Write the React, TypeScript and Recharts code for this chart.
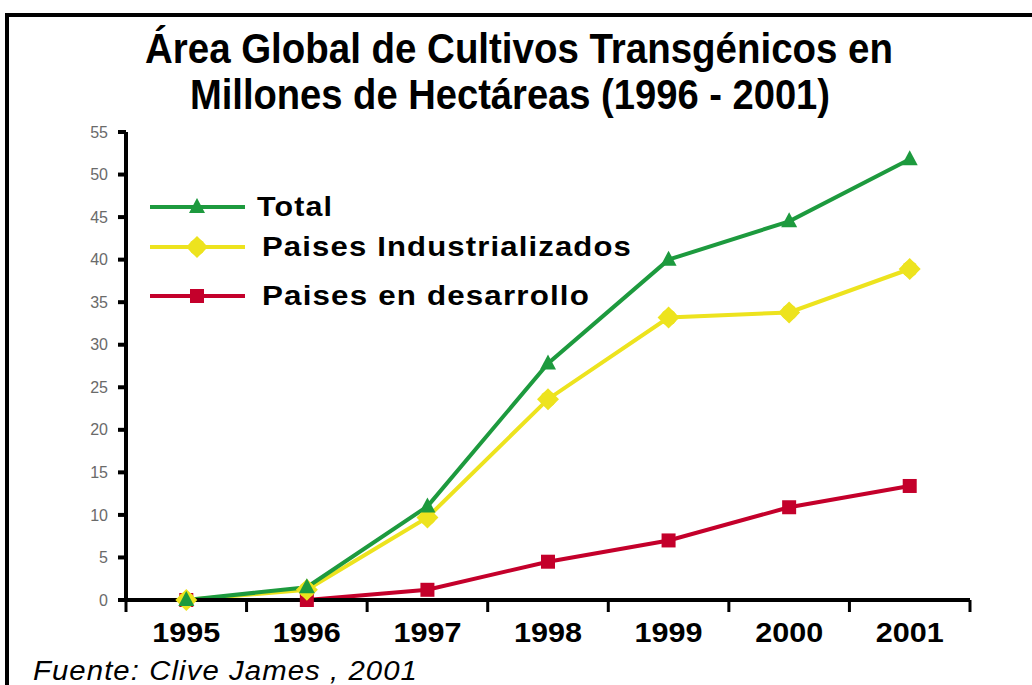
import React from 'react'
import { LineChart, Line, XAxis, YAxis, Legend } from 'recharts'

const years = ['1995', '1996', '1997', '1998', '1999', '2000', '2001']
const total = [0, 1.5, 11, 27.8, 40, 44.5, 51.8]
const industrializados = [0, 1.2, 9.7, 23.6, 33.2, 33.8, 38.9]
const desarrollo = [0, 0, 1.2, 4.5, 7.0, 10.9, 13.4]
const yTicks = [0, 5, 10, 15, 20, 25, 30, 35, 40, 45, 50, 55]
const xBounds = [0, 1, 2, 3, 4, 5, 6, 7]

const GREEN = '#1d9a3e'
const YELLOW = '#ede31e'
const RED = '#c4002b'

const W = 1032
const H = 685
const M = { top: 132, right: 62, left: 0, bottom: 25 }
const Y_AXIS_W = 126
const BAND = (W - M.left - M.right - Y_AXIS_W) / years.length

// x sits in the middle of each year's band, ticks mark the band edges
const data = years.map((year, i) => ({
  x: i + 0.5,
  year,
  total: total[i],
  industrializados: industrializados[i],
  desarrollo: desarrollo[i],
}))

const Triangle = ({ cx, cy, fill }: any) => (
  <polygon points={`${cx},${cy - 9} ${cx + 8},${cy + 6} ${cx - 8},${cy + 6}`} fill={fill} />
)

const Blob = ({ cx, cy, fill }: any) => (
  <g>
    <circle cx={cx} cy={cy} r={8} fill={fill} />
    <polygon points={`${cx},${cy - 11} ${cx + 11},${cy} ${cx},${cy + 11} ${cx - 11},${cy}`} fill={fill} />
  </g>
)

const Square = ({ cx, cy, fill }: any) => (
  <rect x={cx - 7} y={cy - 7} width={14} height={14} fill={fill} />
)

const XTick = ({ x, y, payload }: any) => {
  if (payload.value >= years.length) return null
  return (
    <text x={x + BAND / 2} y={y + 28} textAnchor="middle" textLength={68} lengthAdjust="spacingAndGlyphs"
      style={{ fontFamily: 'Liberation Sans, Arial, sans-serif', fontWeight: 700, fontSize: 28, fill: '#000' }}>
      {years[payload.value]}
    </text>
  )
}

const legendRows = [
  { name: 'Total', color: GREEN, Mark: Triangle, dy: 0, tx: 107, len: 76 },
  { name: 'Paises Industrializados', color: YELLOW, Mark: Blob, dy: 40, tx: 112, len: 370 },
  { name: 'Paises en desarrollo', color: RED, Mark: Square, dy: 89, tx: 112, len: 328 },
]

const LegendBox = () => (
  <svg width={520} height={120} style={{ overflow: 'visible' }}>
    {legendRows.map(r => (
      <g key={r.name}>
        <line x1={0} x2={95} y1={12 + r.dy} y2={12 + r.dy} stroke={r.color} strokeWidth={4} />
        <r.Mark cx={47} cy={12 + r.dy} fill={r.color} />
        <text x={r.tx} y={21 + r.dy} textLength={r.len} lengthAdjust="spacingAndGlyphs"
          style={{ fontFamily: 'Liberation Sans, Arial, sans-serif', fontWeight: 700, fontSize: 27, letterSpacing: 1, fill: '#000' }}>
          {r.name}
        </text>
      </g>
    ))}
  </svg>
)

const titleStyle = { fontFamily: 'Liberation Sans, Arial, sans-serif', fontWeight: 700, fontSize: 42 }

export default function App() {
  return (
    <div style={{ position: 'absolute', left: 0, top: 0, width: W, height: H, overflow: 'hidden', background: '#fff' }}>
      <div style={{ position: 'absolute', left: 5, top: 13, width: 1100, height: 800, border: '4px solid #000' }} />
      <svg width={W} height={H} style={{ position: 'absolute', left: 0, top: 0 }}>
        <text x={519} y={63} textAnchor="middle" textLength={748} lengthAdjust="spacingAndGlyphs" style={titleStyle}>
          Área Global de Cultivos Transgénicos en
        </text>
        <text x={510} y={109} textAnchor="middle" textLength={640} lengthAdjust="spacingAndGlyphs" style={titleStyle}>
          Millones de Hectáreas (1996 - 2001)
        </text>
        <text x={33} y={680} textLength={385} lengthAdjust="spacingAndGlyphs"
          style={{ fontFamily: 'Liberation Sans, Arial, sans-serif', fontStyle: 'italic', fontSize: 27, letterSpacing: 1 }}>
          Fuente: Clive James , 2001
        </text>
      </svg>
      <div style={{ position: 'absolute', left: 0, top: 0 }}>
        <LineChart width={W} height={H} data={data} margin={M}>
          <XAxis type="number" dataKey="x" domain={[0, 7]} ticks={xBounds} interval={0}
            axisLine={{ stroke: '#000', strokeWidth: 4 }} tickLine={{ stroke: '#000', strokeWidth: 3 }}
            tickSize={12} tickMargin={2} height={60} tick={<XTick />} />
          <YAxis domain={[0, 55]} ticks={yTicks} interval={0} width={Y_AXIS_W}
            axisLine={{ stroke: '#000', strokeWidth: 4 }} tickLine={{ stroke: '#000', strokeWidth: 4 }}
            tickSize={8} tickMargin={10}
            tick={{ fill: '#6a6a6a', fontSize: 16, fontFamily: 'Liberation Sans, Arial, sans-serif' }} />
          <Legend content={<LegendBox />} layout="vertical" verticalAlign="middle" align="center"
            wrapperStyle={{ left: 150, top: 195, width: 520, height: 120 }} />
          <Line dataKey="desarrollo" name="Paises en desarrollo" stroke={RED} strokeWidth={4}
            dot={<Square fill={RED} />} isAnimationActive={false} />
          <Line dataKey="industrializados" name="Paises Industrializados" stroke={YELLOW} strokeWidth={4}
            dot={<Blob fill={YELLOW} />} isAnimationActive={false} />
          <Line dataKey="total" name="Total" stroke={GREEN} strokeWidth={4}
            dot={<Triangle fill={GREEN} />} isAnimationActive={false} />
        </LineChart>
      </div>
    </div>
  )
}
